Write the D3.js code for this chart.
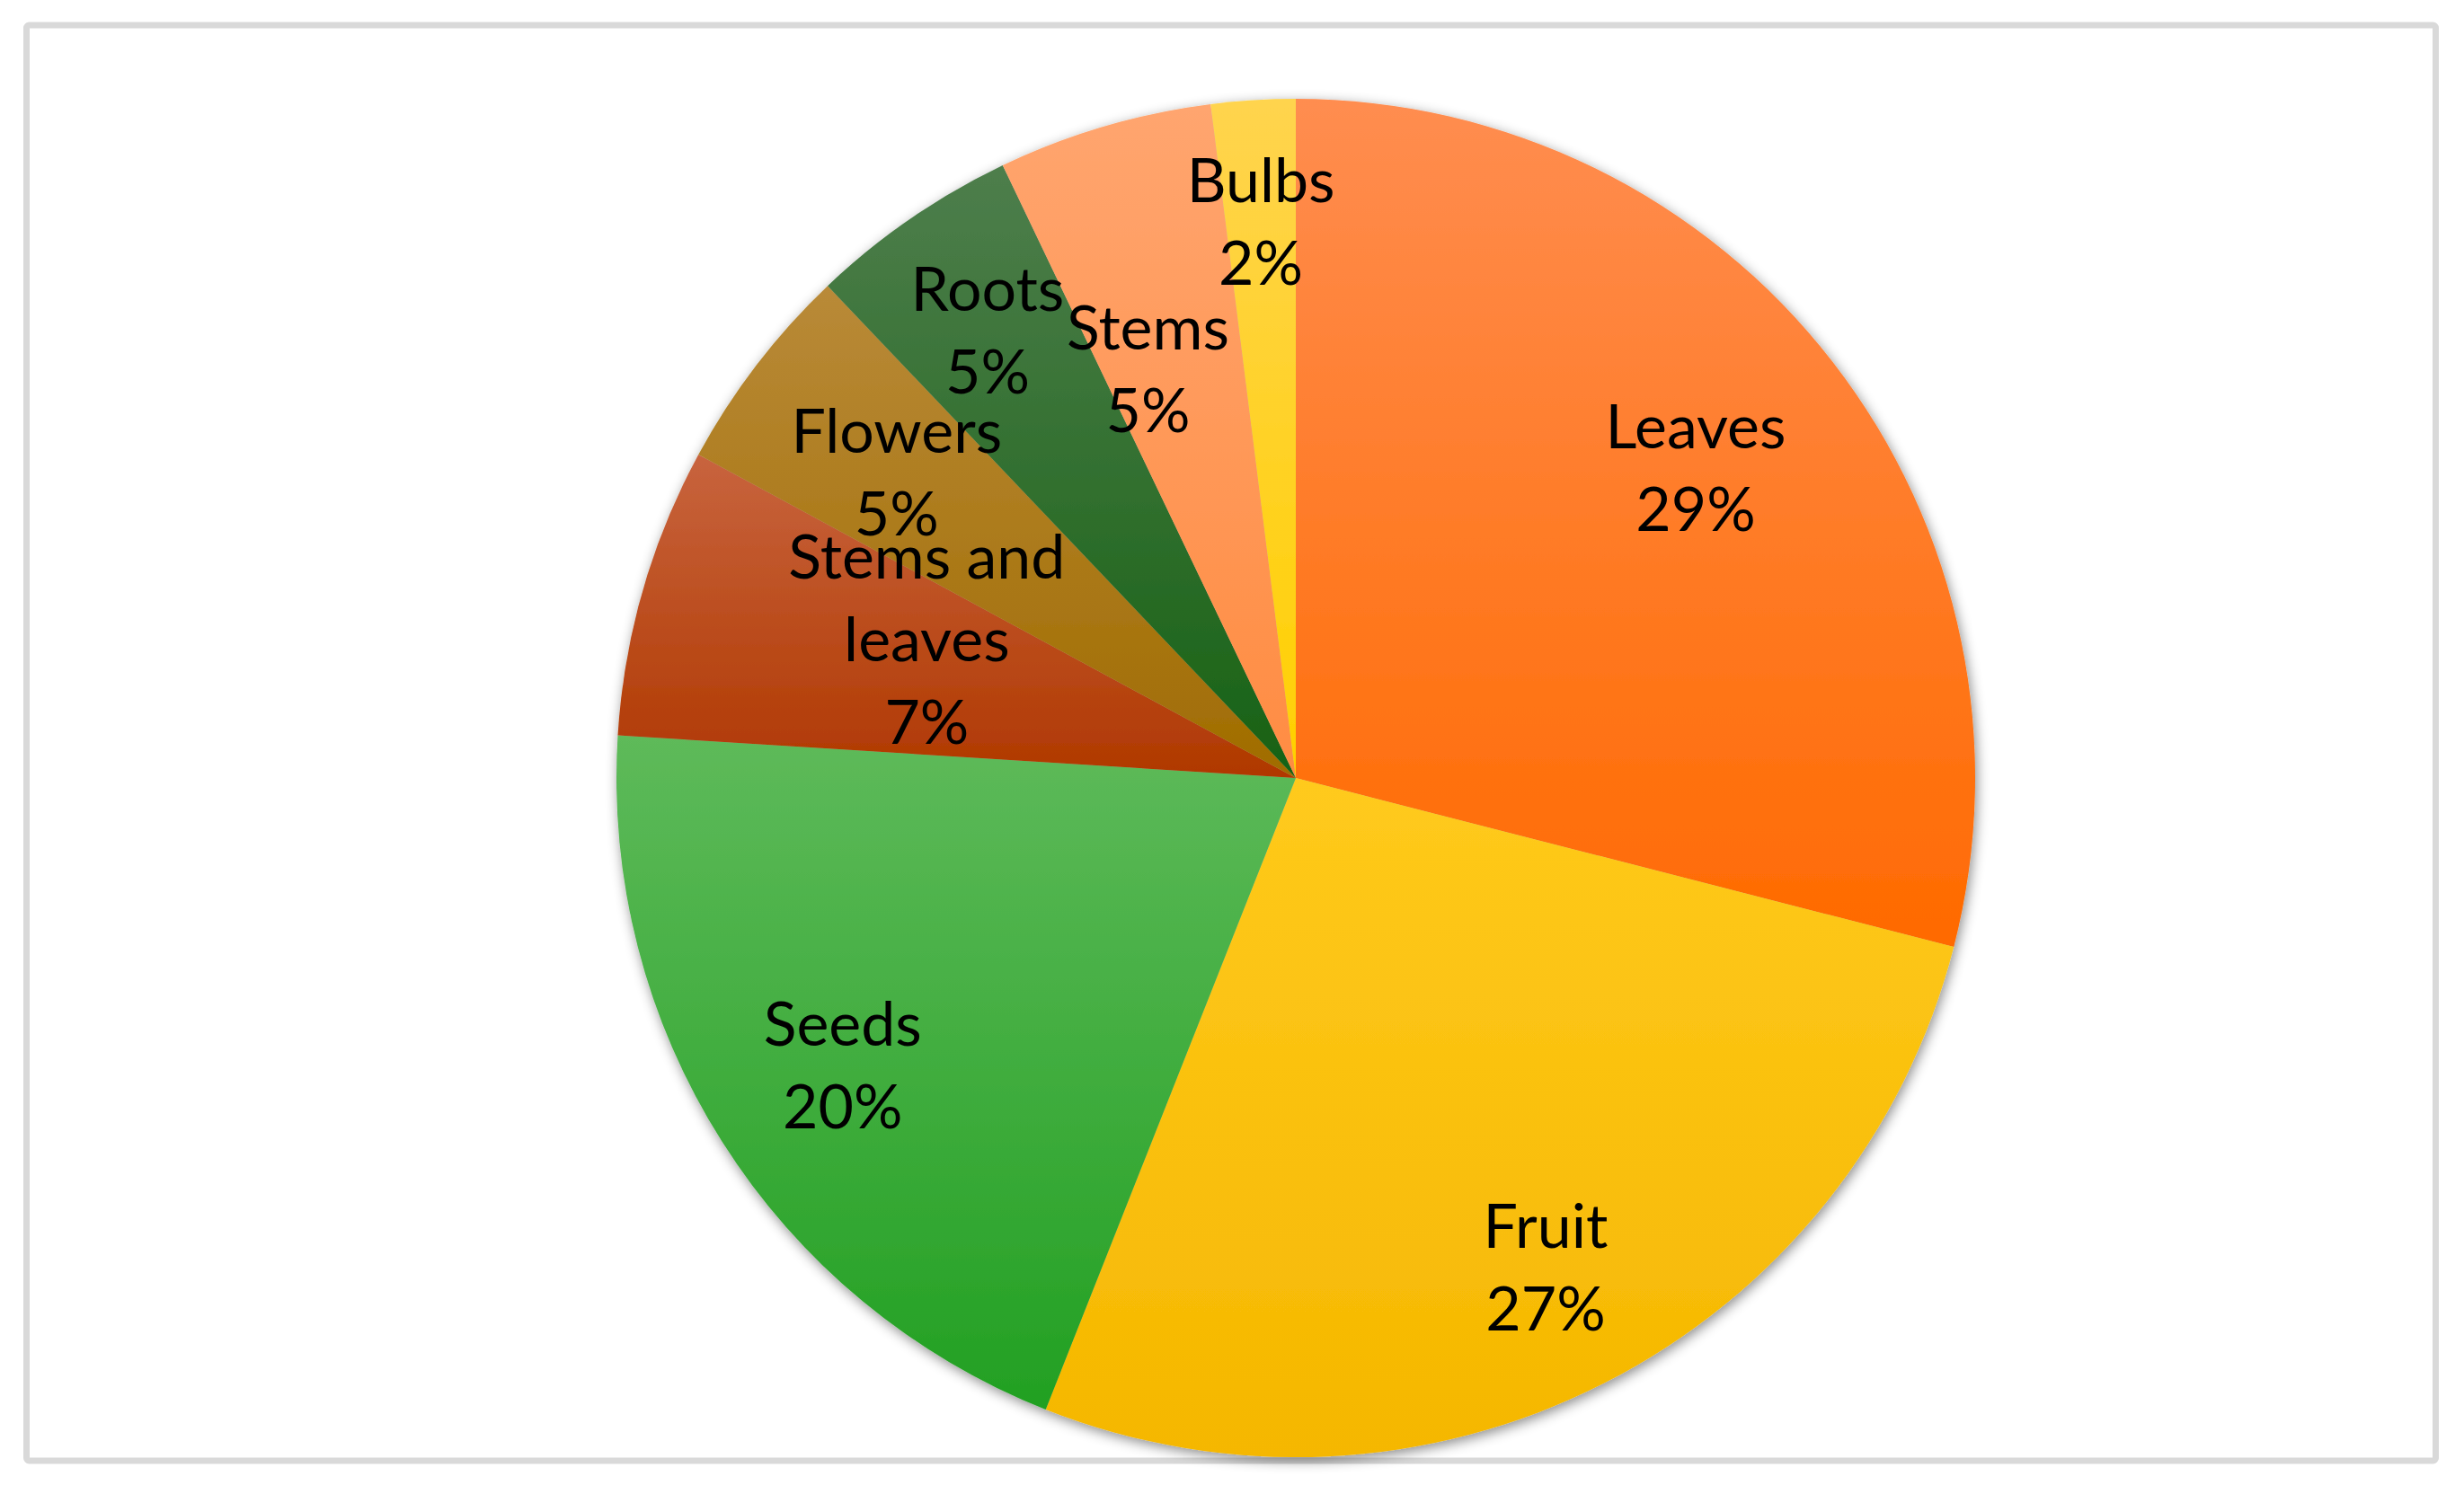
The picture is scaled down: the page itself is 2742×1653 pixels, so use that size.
<!DOCTYPE html>
<html>
<head>
<meta charset="utf-8">
<script src="https://cdn.jsdelivr.net/npm/d3@7"></script>
<style>
  html, body { margin: 0; padding: 0; background: #ffffff; }
  svg { display: block; }
</style>
</head>
<body>
<script>
// ---- data ----
const categories = ["Leaves", "Fruit", "Seeds", "Stems and leaves", "Flowers", "Roots", "Stems", "Bulbs"];
const values = [29.0, 27.0, 20.0, 6.9, 5.0, 5.0, 5.1, 2.0];
const labelLines = [["Leaves"], ["Fruit"], ["Seeds"], ["Stems and", "leaves"], ["Flowers"], ["Roots"], ["Stems"], ["Bulbs"]];

// ---- styles (gradient top -> bottom) ----
const colorTop = ["#FF8D50", "#FFCA1C", "#5EBA5A", "#C8643E", "#B98A38", "#4E7E4C", "#FFA56F", "#FFD44E"];
const colorBottom = ["#FF6A00", "#F5B700", "#22A022", "#B03800", "#A06C00", "#176214", "#FF8C42", "#FFD000"];
// label placement: fraction of radius, angle offset (deg)
const labelRadius = [0.745, 0.81, 0.79, 0.58, 0.74, 0.80, 0.64, 0.82];
const labelAngleOffset = [0, 0, 0, 4.5, 0, 0, -3.5, 0];

const W = 2742, H = 1653;
const cx = 1442, cy = 866, R = 756;
const fontSize = 68, lineH = 92;

const svg = d3.select("body").append("svg")
  .attr("width", W).attr("height", H);

const defs = svg.append("defs");
const filt = defs.append("filter").attr("id", "shadow")
  .attr("x", "-10%").attr("y", "-10%").attr("width", "120%").attr("height", "120%");
filt.append("feDropShadow")
  .attr("dx", 2).attr("dy", 4).attr("stdDeviation", 7)
  .attr("flood-color", "#000").attr("flood-opacity", 0.45);

categories.forEach((c, i) => {
  const g = defs.append("linearGradient").attr("id", "grad" + i)
    .attr("x1", 0).attr("y1", 0).attr("x2", 0).attr("y2", 1);
  g.append("stop").attr("offset", "0%").attr("stop-color", colorTop[i]);
  g.append("stop").attr("offset", "100%").attr("stop-color", colorBottom[i]);
});

// chart border
svg.append("rect")
  .attr("x", 29.5).attr("y", 28).attr("width", 2681).attr("height", 1598)
  .attr("rx", 3)
  .attr("fill", "#ffffff").attr("stroke", "#D9D9D9").attr("stroke-width", 7);

const pie = d3.pie().value(d => d).sort(null);
const arcs = pie(values);
const arc = d3.arc().innerRadius(0).outerRadius(R);

const gPie = svg.append("g").attr("transform", `translate(${cx},${cy})`)
  .attr("filter", "url(#shadow)");

gPie.selectAll("path").data(arcs).enter().append("path")
  .attr("d", arc)
  .attr("fill", (d, i) => `url(#grad${i})`);

const total = d3.sum(values);
const gLab = svg.append("g").attr("transform", `translate(${cx},${cy})`);
arcs.forEach((d, i) => {
  const mid = (d.startAngle + d.endAngle) / 2 + labelAngleOffset[i] * Math.PI / 180;
  const r = R * labelRadius[i];
  const x = Math.sin(mid) * r, y = -Math.cos(mid) * r;
  const lines = labelLines[i].concat([Math.round(values[i] / total * 100) + "%"]);
  const n = lines.length;
  const t = gLab.append("text")
    .attr("x", x).attr("y", y)
    .attr("text-anchor", "middle")
    .attr("font-family", "Lato, 'Open Sans', sans-serif")
    .attr("font-size", fontSize)
    .attr("fill", "#000");
  lines.forEach((ln, k) => {
    t.append("tspan").attr("x", x)
      .attr("y", y + (k - (n - 1) / 2) * lineH)
      .attr("dy", "0.35em")
      .text(ln);
  });
});
</script>
</body>
</html>
